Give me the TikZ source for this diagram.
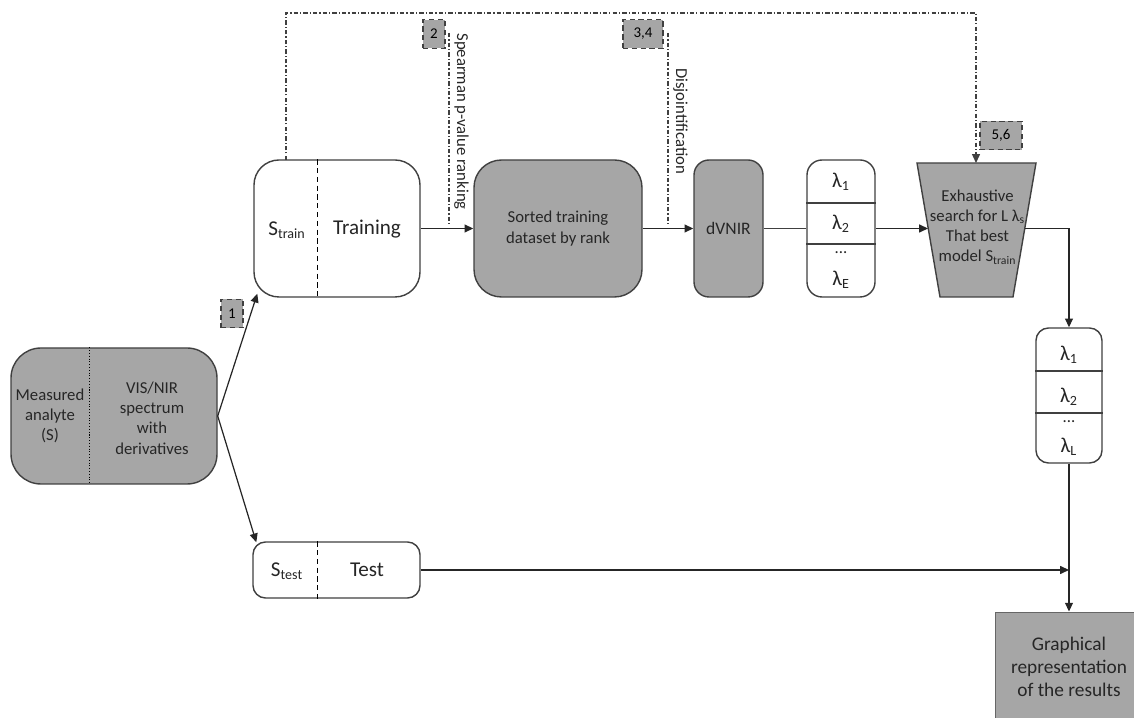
\documentclass[tikz,border=0pt]{standalone}
\usepackage{fontspec}
\setmainfont{Carlito}
\usetikzlibrary{arrows.meta}

\begin{document}
\begin{tikzpicture}[
    gray_box/.style={draw=black!75, fill=black!35, line width=0.8pt, inner sep=0pt},
    white_box/.style={draw=black!75, fill=white, line width=0.8pt, inner sep=0pt},
    tag_box/.style={draw=black!75, fill=black!35, densely dashed, line width=0.6pt, inner sep=0pt, minimum height=0.57cm, font=\fontsize{8.5}{10}\selectfont},
    txt/.style={align=center, inner sep=0pt, text=black!85, font=\fontsize{9.5}{11.5}\selectfont},
    big_txt/.style={align=center, inner sep=0pt, text=black!85, font=\fontsize{12}{14}\selectfont},
    flow/.style={line width=0.7pt, draw=black!85, -{Triangle[length=5pt,width=4.5pt]}},
    step_line/.style={line width=0.6pt, draw=black!75, dash pattern=on 2.5pt off 1.2pt on 0.6pt off 1.2pt}
]
\useasboundingbox (0,0) rectangle (22.68,-14.36);

% Donnees d'entree
\node[gray_box, rounded corners=0.6cm, minimum width=4.12cm, minimum height=2.72cm] (meas) at (2.28,-8.32) {};
\draw[densely dotted, line width=0.6pt] ([xshift=1.58cm]meas.north west) -- ([xshift=1.58cm]meas.south west);
\node[txt] (measL) at (1.0,-8.32) {Measured\\analyte\\(S)};
\node[txt] (measR) at (3.04,-8.36) {VIS/NIR\\spectrum\\with\\derivatives};

% Decoupage train / test
\node[white_box, rounded corners=0.5cm, minimum width=3.32cm, minimum height=2.74cm] (train) at (6.74,-4.57) {};
\draw[densely dashed, line width=0.6pt] ([xshift=1.28cm]train.north west) -- ([xshift=1.28cm]train.south west);
\node[big_txt] (trainS) at (5.74,-4.6) {S\textsubscript{train}};
\node[big_txt] (trainT) at (7.34,-4.58) {Training};

\node[white_box, rounded corners=0.25cm, minimum width=3.34cm, minimum height=1.12cm] (test) at (6.73,-11.4) {};
\draw[densely dashed, line width=0.6pt] ([xshift=1.3cm]test.north west) -- ([xshift=1.3cm]test.south west);
\node[big_txt] (testS) at (5.74,-11.42) {S\textsubscript{test}};
\node[big_txt] (testT) at (7.34,-11.4) {Test};

% Chaine de selection
\node[gray_box, rounded corners=0.55cm, minimum width=3.36cm, minimum height=2.74cm, txt] (sorted) at (11.16,-4.57) {Sorted training\\dataset by rank};
\node[gray_box, rounded corners=0.3cm, minimum width=1.38cm, minimum height=2.74cm, txt, font=\fontsize{10}{12}\selectfont] (dvnir) at (14.57,-4.57) {dVNIR};

\node[white_box, rounded corners=0.3cm, minimum width=1.36cm, minimum height=2.74cm] (lamE) at (16.82,-4.57) {};
\draw[line width=0.7pt, draw=black!75] (lamE.west |- 0,-4.06) -- (lamE.east |- 0,-4.06);
\draw[line width=0.7pt, draw=black!75] (lamE.west |- 0,-4.88) -- (lamE.east |- 0,-4.88);
\node[big_txt] (lamE1) at (16.82,-3.63) {λ\textsubscript{1}};
\node[big_txt] (lamE2) at (16.82,-4.47) {λ\textsubscript{2}};
\node[txt] (lamEd) at (16.82,-5.06) {...};
\node[big_txt] (lamEn) at (16.82,-5.6) {λ\textsubscript{E}};

% Recherche exhaustive
\coordinate (trapTL) at (18.34,-3.26);
\coordinate (trapTR) at (20.72,-3.26);
\coordinate (trapBR) at (20.26,-5.94);
\coordinate (trapBL) at (18.80,-5.94);
\draw[gray_box] (trapTL) -- (trapTR) -- (trapBR) -- (trapBL) -- cycle;
\coordinate (searchIn) at (18.56,-4.57);
\coordinate (searchOut) at (20.50,-4.57);
\coordinate (searchTop) at (19.52,-3.26);
\node[txt] (search) at (19.55,-4.54) {Exhaustive\\search for L λ\textsubscript{s}\\That best\\model S\textsubscript{train}};

\node[white_box, rounded corners=0.25cm, minimum width=1.32cm, minimum height=2.7cm] (lamL) at (21.38,-7.91) {};
\draw[line width=0.7pt, draw=black!75] (lamL.west |- 0,-7.42) -- (lamL.east |- 0,-7.42);
\draw[line width=0.7pt, draw=black!75] (lamL.west |- 0,-8.26) -- (lamL.east |- 0,-8.26);
\node[big_txt] (lamL1) at (21.38,-7.1) {λ\textsubscript{1}};
\node[big_txt] (lamL2) at (21.38,-7.94) {λ\textsubscript{2}};
\node[txt] (lamLd) at (21.38,-8.44) {...};
\node[big_txt] (lamLn) at (21.38,-8.94) {λ\textsubscript{L}};

\node[gray_box, draw=black!60, line width=0.5pt, minimum width=2.96cm, minimum height=2.2cm, txt, font=\fontsize{11}{13}\selectfont] (graph) at (21.38,-13.34) {Graphical\\representation\\of the results};

% Etapes
\node[tag_box, minimum width=0.44cm] (tag1) at (4.64,-6.27) {1};
\node[tag_box, minimum width=0.44cm] (tag2) at (8.68,-0.68) {2};
\node[tag_box, minimum width=0.8cm] (tag34) at (12.86,-0.68) {3,4};
\node[tag_box, minimum width=0.84cm] (tag56) at (20.02,-2.71) {5,6};

\coordinate (spearTop) at (8.98,-0.66);
\coordinate (spearBot) at (8.98,-4.5);
\draw[step_line] (spearTop) -- (spearBot);
\node[txt, rotate=-90, anchor=south west] (spearLbl) at (9.08,-0.66) {Spearman p-value ranking};

\coordinate (disjTop) at (13.36,-0.66);
\coordinate (disjBot) at (13.36,-4.5);
\draw[step_line] (disjTop) -- (disjBot);
\node[txt, rotate=-90, anchor=south west] (disjLbl) at (13.46,-1.36) {Disjointification};

\coordinate (trainTop) at (5.72,-3.2);
\draw[step_line, -{Triangle[length=5pt,width=4.5pt]}] (trainTop) |- (19.52,-0.26) -- (searchTop);

% Fleches
\draw[flow] (meas.east) -- ([shift={(0.08,0.08)}]train.south west);
\draw[flow] (meas.east) -- ([shift={(0.08,-0.02)}]test.north west);
\draw[flow] (train.east) -- (sorted.west);
\draw[flow] (sorted.east) -- (dvnir.west);
\draw[line width=0.7pt, draw=black!75] (dvnir.east) -- (lamE.west);
\draw[flow] (lamE.east) -- (searchIn);
\draw[flow] (searchOut) -| (lamL.north);
\draw[flow] (lamL.south) -- (graph.north);
\draw[flow] (test.east) -- (test.east -| lamL.south);
\end{tikzpicture}
\end{document}
